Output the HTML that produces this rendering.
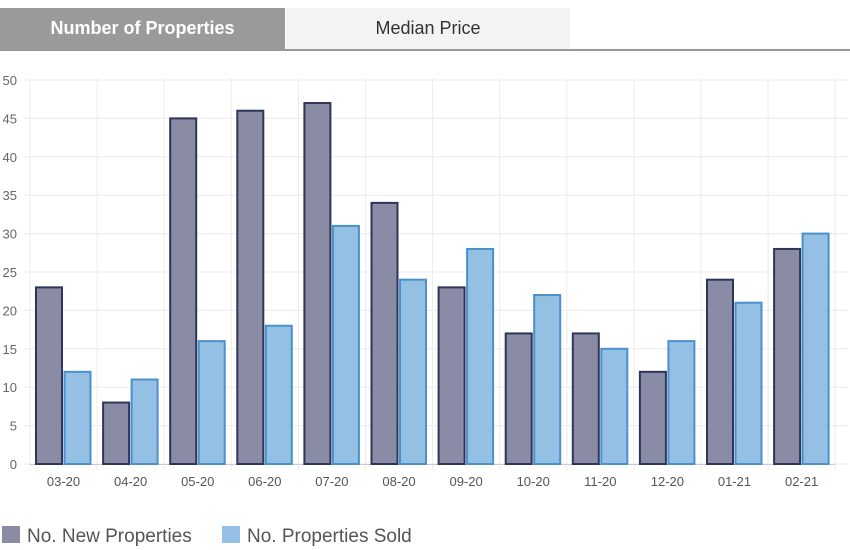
<!DOCTYPE html>
<html><head><meta charset="utf-8"><style>
body{margin:0;width:850px;height:550px;background:#fff;font-family:"Liberation Sans",sans-serif;overflow:hidden;position:relative}
.t1{position:absolute;left:0;top:8px;width:285px;height:41px;background:#9a9a9a;color:#fff;font-weight:bold;font-size:18px;line-height:41px;text-align:center}
.t2{position:absolute;left:286px;top:8px;width:284px;height:41px;background:#f3f3f3;color:#333;font-size:18px;line-height:41px;text-align:center}
.ln{position:absolute;left:0;top:49px;width:850px;height:2px;background:#999}
</style></head><body>
<div class="t1">Number of Properties</div><div class="t2">Median Price</div><div class="ln"></div>
<svg width="850" height="550" style="position:absolute;left:0;top:0">
<g id="g"></g>
</svg>
<script>
var g=document.getElementById('g'),s='';
var a=[23,8,45,46,47,34,23,17,17,12,24,28],b=[12,11,16,18,31,24,28,22,15,16,21,30];
var L=['03-20','04-20','05-20','06-20','07-20','08-20','09-20','10-20','11-20','12-20','01-21','02-21'];
function y(v){return 464-v*7.68;}
for(var v=0;v<=50;v+=5){s+='<line x1="24" x2="848" y1="'+y(v)+'" y2="'+y(v)+'" stroke="#ececec"/>';
s+='<text x="17" y="'+(y(v)+5)+'" text-anchor="end" font-size="13" fill="#666" font-family="Liberation Sans">'+v+'</text>';}
for(var i=0;i<=12;i++){var x=30+i*67.1;s+='<line x1="'+x+'" x2="'+x+'" y1="78" y2="470" stroke="#ececec"/>';}
s+='<line x1="30" x2="835" y1="464.5" y2="464.5" stroke="#ccc"/>';
for(i=0;i<12;i++){var x0=30+i*67.1;
s+='<rect x="'+(x0+6)+'" y="'+y(a[i])+'" width="26" height="'+(a[i]*7.68)+'" fill="#8a8ca6" stroke="#2f3558" stroke-width="2"/>';
s+='<rect x="'+(x0+34.5)+'" y="'+y(b[i])+'" width="26" height="'+(b[i]*7.68)+'" fill="#94c0e3" stroke="#4a90cc" stroke-width="2"/>';
s+='<text x="'+(x0+33.5)+'" y="486" text-anchor="middle" font-size="13" fill="#555" font-family="Liberation Sans">'+L[i]+'</text>';}
s+='<rect x="2" y="526" width="18" height="17" fill="#8a8ca6"/><text x="27" y="542" font-size="19" fill="#555" font-family="Liberation Sans">No. New Properties</text>';
s+='<rect x="222" y="526" width="18" height="17" fill="#94c0e3"/><text x="247" y="542" font-size="19" fill="#555" font-family="Liberation Sans">No. Properties Sold</text>';
g.innerHTML=s;
</script>
</body></html>
